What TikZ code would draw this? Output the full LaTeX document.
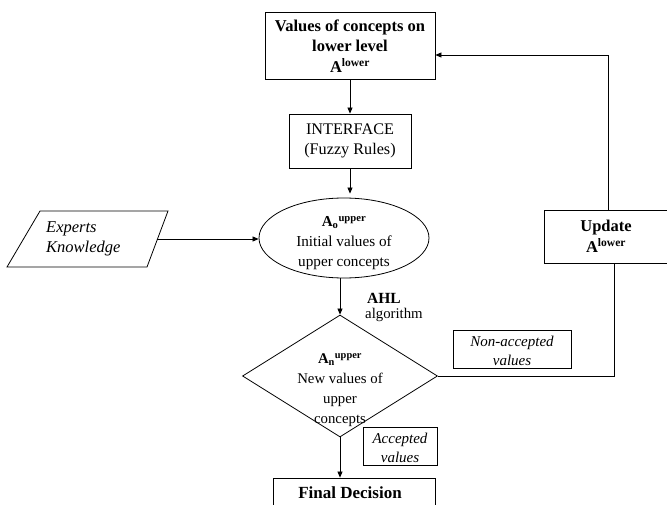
\documentclass[tikz,border=0pt]{standalone}
\usepackage{fontspec}
\setmainfont{Liberation Serif}
\usetikzlibrary{arrows.meta,shapes.geometric}
\begin{document}
\begin{tikzpicture}[x=1pt,y=1pt,
  box/.style={draw,line width=0.8pt,inner sep=0pt,align=center},
  arr/.style={-{Triangle[length=6pt,width=5pt]},line width=0.7pt},
  ln/.style={line width=0.7pt},
  bt/.style={font=\fontsize{16.5}{20.5}\selectfont\bfseries,align=center,inner sep=0pt},
  rt/.style={font=\fontsize{14.8}{20}\selectfont,align=center,inner sep=0pt},
  it/.style={font=\fontsize{15}{19}\selectfont\itshape,align=center,inner sep=0pt}]
\useasboundingbox (0,0) rectangle (667,-505);
% top box
\node[box,bt,minimum width=170,minimum height=67] (top) at (350,-46)
  {Values of concepts on\\lower level\\A\textsuperscript{lower}};
% interface
\node[box,font=\fontsize{16.2}{20}\selectfont,minimum width=122,minimum height=54] (intf) at (350,-141)
  {INTERFACE\\(Fuzzy Rules)};
% ellipse
\node[draw,ellipse,line width=0.8pt,minimum width=170,minimum height=80,inner sep=0pt] (ell) at (344,-238) {};
\node[rt,font=\fontsize{15.2}{20}\selectfont] (elltxt) at (344,-243)
  {{\bfseries A\textsubscript{o}\textsuperscript{upper}}\\Initial values of\\upper concepts};
% experts knowledge parallelogram
\draw[line width=0.8pt] (40,-211) -- (168,-211) -- (147,-267) -- (7,-267) -- cycle;
\node[it,font=\fontsize{16.5}{20}\selectfont\itshape,align=left,anchor=west] (ek) at (46,-239) {Experts\\Knowledge};
\coordinate (ekr) at (157,-239);
% diamond
\node[draw,diamond,line width=0.8pt,minimum width=195,minimum height=122,inner sep=0pt] (dia) at (340,-376) {};
\node[rt] (diatxt) at (340,-390)
  {{\bfseries A\textsubscript{n}\textsuperscript{upper}}\\New values of\\upper\\concepts};
% AHL algorithm
\node[bt,font=\fontsize{15.5}{19}\selectfont\bfseries,anchor=west] (ahl) at (367,-298) {AHL};
\node[rt,anchor=west] (alg) at (365,-315) {algorithm};
% final decision
\node[draw,line width=0.8pt,minimum width=162,minimum height=50,inner sep=0pt] (fin) at (354,-503) {};
\node[bt,font=\fontsize{17}{20}\selectfont\bfseries] (fintxt) at (350,-493) {Final Decision};
% accepted values
\node[draw,line width=0.6pt,minimum width=74,minimum height=38,inner sep=0pt] (acc) at (400,-446) {};
\node[it] (acctxt) at (400,-448) {Accepted\\values};
% non-accepted values
\node[draw,line width=0.6pt,minimum width=118,minimum height=38,inner sep=0pt] (nac) at (512,-349) {};
\node[it] (nactxt) at (512,-351) {Non-accepted\\values};
% update
\node[box,bt,minimum width=124,minimum height=53] (upd) at (606,-236.5)
  {Update\\A\textsuperscript{lower}};
% connectors
\draw[arr] (top.south) -- (intf.north);
\draw[arr] (intf.south) -- ([yshift=4pt]intf.south |- ell.north);
\draw[arr] (ekr) -- (ekr -| ell.west);
\draw[arr] (ell.south -| dia.north) -- (dia.north);
\draw[arr] (dia.south) -- (dia.south |- fin.north);
\coordinate (c1) at (614,-376);
\coordinate (c2) at (608,-55);
\draw[ln] (dia.east) -- (c1) -- (c1 |- upd.south);
\draw[arr] (c2 |- upd.north) -- (c2) -- (c2 -| top.east);
\end{tikzpicture}
\end{document}
